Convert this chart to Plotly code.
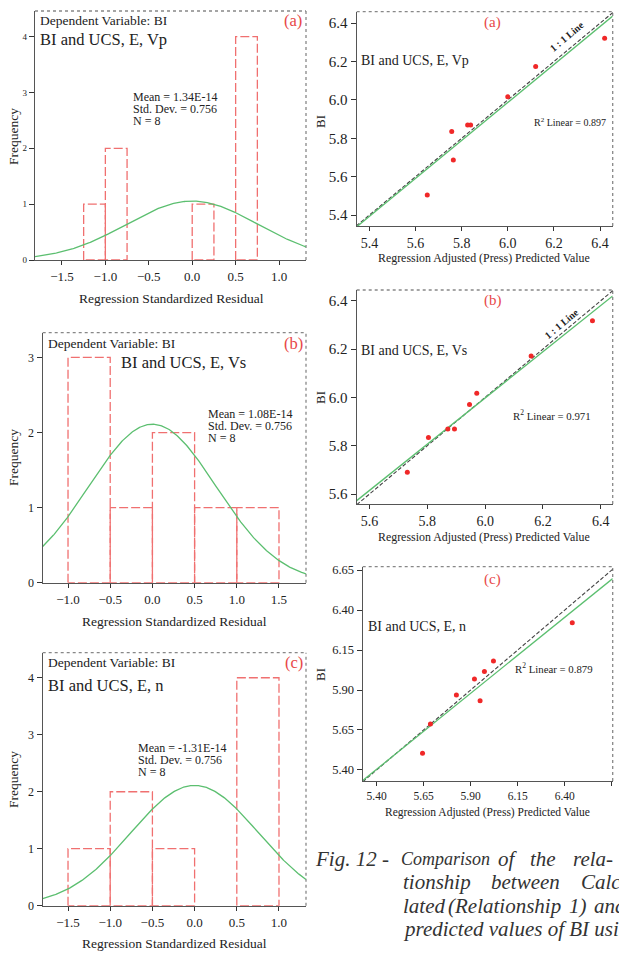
import numpy as np
import plotly.graph_objects as go

W, H = 619, 954
FONT = "Liberation Serif"

# ---------------- data ----------------
# Histograms of regression standardized residuals (left edge of each bin, bin width, counts)
hist_a_edges = [-1.25, -1.0, 0.0, 0.5]
hist_a_width = 0.25
hist_a_counts = [1, 2, 1, 4]

hist_b_edges = [-1.0, -0.5, 0.0, 0.5, 1.0]
hist_b_width = 0.5
hist_b_counts = [3, 1, 2, 1, 1]

hist_c_edges = [-1.5, -1.0, -0.5, 0.5]
hist_c_width = 0.5
hist_c_counts = [1, 2, 1, 4]

hist_mean = [1.34e-14, 1.08e-14, -1.31e-14]
hist_sd = [0.756, 0.756, 0.756]
hist_n = [8, 8, 8]
hist_stats = [["Mean = 1.34E-14", "Std. Dev. = 0.756", "N = 8"],
              ["Mean = 1.08E-14", "Std. Dev. = 0.756", "N = 8"],
              ["Mean = -1.31E-14", "Std. Dev. = 0.756", "N = 8"]]

# Scatter: predicted (x) vs BI (y)
sc_a_x = [5.651, 5.757, 5.764, 5.826, 5.839, 6.000, 6.121, 6.420]
sc_a_y = [5.504, 5.835, 5.687, 5.870, 5.870, 6.017, 6.174, 6.322]
sc_b_x = [5.731, 5.804, 5.871, 5.894, 5.946, 5.971, 6.159, 6.371]
sc_b_y = [5.690, 5.834, 5.869, 5.869, 5.971, 6.017, 6.171, 6.317]
sc_c_x = [5.644, 5.686, 5.824, 5.920, 5.950, 5.973, 6.021, 6.440]
sc_c_y = [5.504, 5.688, 5.869, 5.969, 5.833, 6.015, 6.081, 6.321]
r2_labels = ["R<sup>2</sup> Linear = 0.897", "R<sup>2</sup> Linear = 0.971",
             "R<sup>2</sup> Linear = 0.879"]

hist_xticks = [[-1.5, -1.0, -0.5, 0.0, 0.5, 1.0],
               [-1.0, -0.5, 0.0, 0.5, 1.0, 1.5],
               [-1.5, -1.0, -0.5, 0.0, 0.5, 1.0]]
sc_ticks = [[5.4, 5.6, 5.8, 6.0, 6.2, 6.4],
            [5.6, 5.8, 6.0, 6.2, 6.4],
            [5.40, 5.65, 5.90, 6.15, 6.40, 6.65]]
panel_tags = ["(a)", "(b)", "(c)"]
model_names = ["BI and UCS, E, Vp", "BI and UCS, E, Vs", "BI and UCS, E, n"]

# ---------------- layout helpers ----------------
def px(x):
    return x / W

def py(y):
    return 1 - y / H

# pixel boxes of plot areas: (left, right, top, bottom)
hist_boxes = [(35, 306, 11, 260), (42.7, 306, 332.7, 582.7), (42.7, 306, 652.7, 905.7)]
sc_boxes = [(356.7, 612.7, 11.7, 226), (356.7, 612.7, 290, 504), (362.7, 612.7, 566.7, 781)]
hist_xr = [[-1.81, 1.31], [-1.30, 1.82], [-1.80, 1.32]]
hist_yr = [[0, 4.46], [0, 3.33], [0, 4.44]]
sc_xr = [[5.345, 6.455], [5.556, 6.441], [5.326, 6.655]]
sc_yr = [[5.343, 6.46], [5.559, 6.444], [5.331, 6.671]]

fig = go.Figure()
layout = dict(width=W, height=H, margin=dict(l=0, r=0, t=0, b=0, pad=0, autoexpand=False),
              paper_bgcolor="white", plot_bgcolor="white", showlegend=False,
              font=dict(family=FONT, color="#222"))
annotations = []
shapes = []

BAR_COL = "#f07070"
GREEN = "#5cbf70"
RED_TXT = "#e84848"

def axis_common():
    return dict(showgrid=False, zeroline=False, showline=True, linecolor="#555",
                linewidth=1.4, ticks="outside", ticklen=4, tickcolor="#333",
                tickwidth=1, automargin=False)

def add_frame(i):
    xr = "x" if i == 1 else f"x{i}"
    yr = "y" if i == 1 else f"y{i}"
    shapes.append(dict(type="line", xref=f"{xr} domain", yref=f"{yr} domain",
                       x0=0, x1=1, y0=1, y1=1, layer="below",
                       line=dict(color="#888", width=1.3, dash="dot")))
    shapes.append(dict(type="line", xref=f"{xr} domain", yref=f"{yr} domain",
                       x0=1, x1=1, y0=0, y1=1, layer="below",
                       line=dict(color="#888", width=1.3, dash="dot")))

def ann(x, y, text, size, color="#222", xanchor="center", yanchor="middle", angle=0):
    annotations.append(dict(x=px(x), y=py(y), xref="paper", yref="paper", text=text,
                            showarrow=False, xanchor=xanchor, yanchor=yanchor,
                            textangle=angle, borderpad=0,
                            font=dict(family=FONT, size=size, color=color)))

hist_edges = [hist_a_edges, hist_b_edges, hist_c_edges]
hist_widths = [hist_a_width, hist_b_width, hist_c_width]
hist_counts = [hist_a_counts, hist_b_counts, hist_c_counts]
hist_ytick_size = [9, 12, 12]

# ---- histograms: axes 1,3,5 ----
for k in range(3):
    ax = 2 * k + 1
    xname = "x" if ax == 1 else f"x{ax}"
    yname = "y" if ax == 1 else f"y{ax}"
    l, r, t, b = hist_boxes[k]
    for e, c in zip(hist_edges[k], hist_counts[k]):
        e2 = e + hist_widths[k]
        fig.add_trace(go.Scatter(x=[e, e, e2, e2, e], y=[0, c, c, 0, 0], mode="lines",
                                 line=dict(color=BAR_COL, width=1.3, dash="9px,3px"),
                                 xaxis=xname, yaxis=yname, hoverinfo="skip"))
    # normal curve from the stated mean / sd / N / bin width
    xs = np.linspace(hist_xr[k][0], hist_xr[k][1], 300)
    ys = hist_n[k] * hist_widths[k] * np.exp(-0.5 * ((xs - hist_mean[k]) / hist_sd[k]) ** 2) / (hist_sd[k] * np.sqrt(2 * np.pi))
    fig.add_trace(go.Scatter(x=xs, y=ys, mode="lines", line=dict(color=GREEN, width=1.3),
                             xaxis=xname, yaxis=yname, hoverinfo="skip"))
    xa = axis_common()
    xa.update(domain=[px(l), px(r)], range=hist_xr[k], anchor=yname,
              tickvals=hist_xticks[k], tickformat=".1f",
              tickfont=dict(family=FONT, size=13, color="#222"))
    ya = axis_common()
    ya.update(domain=[py(b), py(t)], range=hist_yr[k], anchor=xname, dtick=1, tick0=0,
              ticklen=5, tickfont=dict(family=FONT, size=hist_ytick_size[k], color="#222"))
    key = "" if ax == 1 else str(ax)
    layout["xaxis" + key] = xa
    layout["yaxis" + key] = ya
    add_frame(ax)

# ---- scatters: axes 2,4,6 ----
sc_x = [sc_a_x, sc_b_x, sc_c_x]
sc_y = [sc_a_y, sc_b_y, sc_c_y]
sc_xtick_size = [14, 14, 11.5]
sc_ytick_size = [15, 15, 12.5]
for k in range(3):
    ax = 2 * k + 2
    xname = f"x{ax}"
    yname = f"y{ax}"
    l, r, t, b = sc_boxes[k]
    lo = min(sc_xr[k][0], sc_yr[k][0])
    hi = max(sc_xr[k][1], sc_yr[k][1])
    fig.add_trace(go.Scatter(x=[lo, hi], y=[lo, hi], mode="lines",
                             line=dict(color="#444", width=1.1, dash="4px,2px"),
                             xaxis=xname, yaxis=yname, hoverinfo="skip"))
    slope, icpt = np.polyfit(sc_x[k], sc_y[k], 1)
    fx = np.array(sc_xr[k])
    fig.add_trace(go.Scatter(x=fx, y=slope * fx + icpt, mode="lines",
                             line=dict(color=GREEN, width=1.3),
                             xaxis=xname, yaxis=yname, hoverinfo="skip"))
    fig.add_trace(go.Scatter(x=sc_x[k], y=sc_y[k], mode="markers",
                             marker=dict(color="#f02828", size=5, symbol="circle"),
                             xaxis=xname, yaxis=yname, cliponaxis=False))
    fmt = ".2f" if k == 2 else ".1f"
    xa = axis_common()
    xa.update(domain=[px(l), px(r)], range=sc_xr[k], anchor=yname,
              tickvals=sc_ticks[k], tickformat=fmt,
              tickfont=dict(family=FONT, size=sc_xtick_size[k], color="#222"))
    ya = axis_common()
    ya.update(domain=[py(b), py(t)], range=sc_yr[k], anchor=xname,
              tickvals=sc_ticks[k], tickformat=fmt, ticklen=5,
              tickfont=dict(family=FONT, size=sc_ytick_size[k], color="#222"))
    layout[f"xaxis{ax}"] = xa
    layout[f"yaxis{ax}"] = ya
    add_frame(ax)

# ---------------- texts ----------------
dep_pos = [(39, 20), (46.7, 343.3), (46.7, 662.7)]
tag_pos = [(303, 21), (304, 343), (304, 662)]
name_pos = [(39, 40), (120, 362), (46.7, 685)]
stat_pos = [(132, 97), (207, 414), (136.7, 748.3)]
xt_pos = [(171, 298), (174, 621.7), (174, 943)]
yt_pos = [(13, 137), (13, 458), (13, 780)]
for k in range(3):
    ann(*dep_pos[k], "Dependent Variable: BI", 13.5, xanchor="left")
    ann(*tag_pos[k], panel_tags[k], 16.5, color=RED_TXT, xanchor="right")
    ann(*name_pos[k], model_names[k], 16.5, xanchor="left")
    for j, s in enumerate(hist_stats[k]):
        ann(stat_pos[k][0], stat_pos[k][1] + 12 * j, s, 12, xanchor="left")
    ann(*xt_pos[k], "Regression Standardized Residual", 13.5)
    ann(*yt_pos[k], "Frequency", 13.5, angle=-90)

stag_pos = [(492.7, 22.7), (492.7, 300.7), (492.7, 579)]
sname_pos = [(360, 61), (360, 350), (367.3, 626.7)]
r2_pos = [(532.7, 121.7), (511.7, 415), (514, 667.7)]
r2_size = [10, 10.8, 10.8]
sxt_pos = [(484, 257.7), (484, 536.7), (487.5, 812.7)]
sxt_size = [11.9, 11.9, 11.5]
syt_pos = [(320, 122), (320, 398), (320, 675)]
line_lbl_pos = [(567, 37), (561.7, 323.3)]
for k in range(3):
    ann(*stag_pos[k], panel_tags[k], 15, color=RED_TXT)
    ann(*sname_pos[k], model_names[k], 14, xanchor="left")
    ann(*r2_pos[k], r2_labels[k], r2_size[k], xanchor="left")
    ann(*sxt_pos[k], "Regression Adjusted (Press) Predicted Value", sxt_size[k])
    ann(*syt_pos[k], "BI", 13, angle=-90)
for (x, y) in line_lbl_pos:
    ann(x, y, "<b>1 : 1 Line</b>", 10, angle=-40)

# caption (justified lines, running past the right edge as in the source page)
CAP = 21
cap_col = "#333"
L1, L2, L3, L4 = 858.5, 882, 905.5, 929
ann(314, L1, "<i>Fig. 12 -</i>", CAP, color=cap_col, xanchor="left")
for word, x, s in [("Comparison", 400, 18), ("of", 496.7, CAP), ("the", 529, CAP),
                   ("rela-", 572, CAP)]:
    ann(x, L1, f"<i>{word}</i>", s, color=cap_col, xanchor="left")
for word, x in [("tionship", 401.7), ("between", 490), ("Calcu-", 580)]:
    ann(x, L2, f"<i>{word}</i>", CAP, color=cap_col, xanchor="left")
for word, x in [("lated", 401.7), ("(Relationship", 446.7), ("1)", 568), ("and", 593)]:
    ann(x, L3, f"<i>{word}</i>", CAP, color=cap_col, xanchor="left")
ann(401.7, L4, "<i>predicted values of BI using</i>", CAP, color=cap_col, xanchor="left")

layout["annotations"] = annotations
layout["shapes"] = shapes
fig.update_layout(**layout)
fig.write_html("out.html", config={"displayModeBar": False},
               post_script="document.body.style.margin='0';document.body.style.overflow='hidden';")
